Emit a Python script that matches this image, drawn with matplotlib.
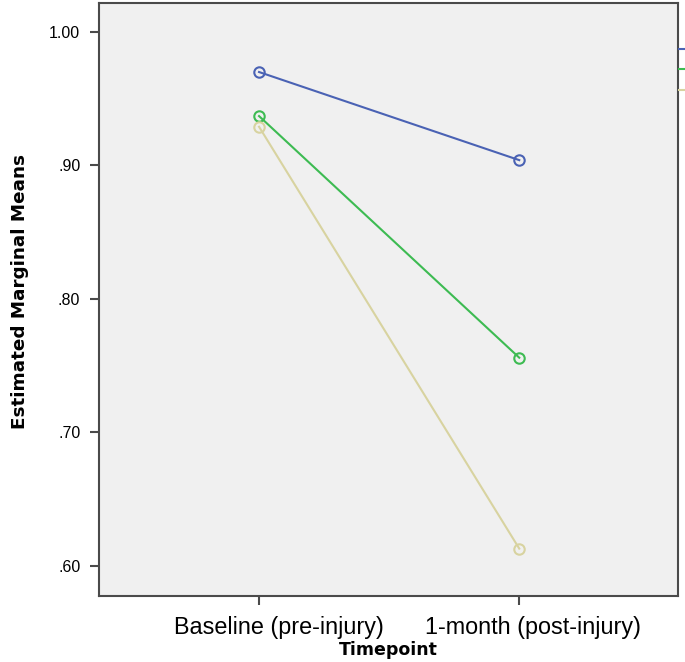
import matplotlib
matplotlib.use("Agg")
import matplotlib.pyplot as plt
import matplotlib.transforms as mtransforms
from matplotlib.lines import Line2D

# estimated marginal means
timepoints = ["Baseline (pre-injury)", "1-month (post-injury)"]
blue_vals = [0.970, 0.904]
green_vals = [0.937, 0.756]
tan_vals = [0.929, 0.613]
yticks = [0.60, 0.70, 0.80, 0.90, 1.00]
ytick_labels = [".60", ".70", ".80", ".90", "1.00"]

colors = ["#4A62B4", "#3DBB52", "#D8D3A0"]

fig = plt.figure(figsize=(6.85, 6.62), dpi=100, facecolor="w")
ax = fig.add_axes([99 / 685, 1 - 596 / 662, 579 / 685, 593 / 662])
ax.set_facecolor("#F0F0F0")

x = list(range(len(timepoints)))
for vals, c in zip([blue_vals, green_vals, tan_vals], colors):
    ax.plot(x, vals, color=c, lw=1.5, marker="o", ms=7.5, mfc="none",
            mec=c, mew=1.5)

ax.set_xlim(-0.615, 1.61)
ax.set_ylim(0.5775, 1.0217)
ax.set_xticks(x)
ax.set_xticklabels(timepoints, family="Liberation Sans", fontsize=16.8)
ax.set_yticks(yticks)
ax.set_yticklabels(ytick_labels, family="Liberation Sans", fontsize=11.5)
ax.tick_params(axis="both", direction="out", length=6.5, width=1.5,
               color="#4A4A4A", pad=7)
ax.tick_params(axis="x", pad=8)

# SPSS draws the category labels a little right of their ticks
for lab, dx in zip(ax.get_xticklabels(), [20, 14]):
    off = mtransforms.ScaledTranslation(dx / 100, 0, fig.dpi_scale_trans)
    lab.set_transform(lab.get_transform() + off)

for sp in ax.spines.values():
    sp.set_color("#4A4A4A")
    sp.set_linewidth(1.5)

ax.set_xlabel("Timepoint", family="DejaVu Sans", fontweight="bold",
              fontsize=12.5, labelpad=1)
ax.set_ylabel("Estimated Marginal Means", family="DejaVu Sans",
              fontweight="bold", fontsize=13.2)
ax.yaxis.set_label_coords(-0.121, 0.513)

# legend is cut off at the right edge in the original
handles = [Line2D([], [], color=c, lw=1.5) for c in colors]
fig.legend(handles, ["", "", ""], loc="upper left",
           bbox_to_anchor=(679 / 685, 1 - 43 / 662), frameon=False,
           borderpad=0, borderaxespad=0, handlelength=2, handletextpad=0,
           labelspacing=0.45, fontsize=10)

fig.savefig("out.png", dpi=100)
